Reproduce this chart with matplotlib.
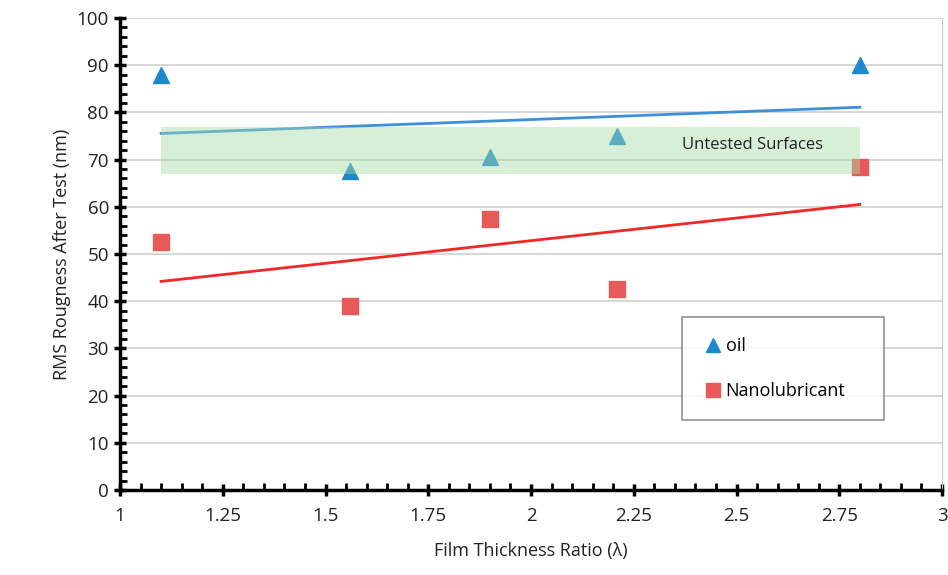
import numpy as np
import matplotlib

matplotlib.use("Agg")
import matplotlib.pyplot as plt
from matplotlib.ticker import MultipleLocator

plt.rcParams["font.family"] = ["Open Sans", "DejaVu Sans"]

# Film thickness ratio (lambda) of each test
lam = [1.1, 1.56, 1.9, 2.21, 2.8]
# RMS roughness after test (nm)
oil = [88, 67.5, 70.5, 75, 90]
nano = [52.5, 39, 57.5, 42.5, 68.5]
# band of untested surface roughness (nm)
untested_lo, untested_hi = 67, 77

fig = plt.figure(figsize=(9.48, 5.75), dpi=100)
ax = fig.add_axes([0.1266, 0.1478, 0.8671, 0.8209])

ax.set_xlim(1, 3)
ax.set_ylim(0, 100)
ax.xaxis.set_major_locator(MultipleLocator(0.25))
ax.xaxis.set_minor_locator(MultipleLocator(0.05))
ax.yaxis.set_major_locator(MultipleLocator(10))
ax.yaxis.set_minor_locator(MultipleLocator(2))
ax.set_xticks(np.arange(1, 3.01, 0.25), ["1", "1.25", "1.5", "1.75", "2", "2.25", "2.5", "2.75", "3"])
ax.grid(axis="y", color="#d0d0d0", linewidth=1.2)
ax.set_axisbelow(True)

ax.spines["top"].set_visible(False)
ax.spines["right"].set_color("#c8c8c8")
ax.spines["left"].set_linewidth(2.5)
ax.spines["bottom"].set_linewidth(2.5)
ax.tick_params(which="major", direction="inout", length=9, width=2.5, labelsize=13.5, colors="black")
ax.tick_params(which="minor", direction="in", length=5, width=2)
ax.tick_params(axis="x", pad=8)
for lbl in ax.get_xticklabels() + ax.get_yticklabels():
    lbl.set_color("#222222")

ax.set_xlabel("Film Thickness Ratio (\u03bb)", fontsize=13, color="#222222", labelpad=12)
ax.set_ylabel("RMS Rougness After Test (nm)", fontsize=13, color="#222222")

# trendlines
lx = np.array([lam[0], lam[-1]])
po = np.polyfit(lam, oil, 1)
pn = np.polyfit(lam, nano, 1)
ax.plot(lx, np.polyval(po, lx), color="#3d8fd9", linewidth=2, zorder=2)
ax.plot(lx, np.polyval(pn, lx), color="#f02828", linewidth=2, zorder=2)

ax.plot(lam, oil, linestyle="none", marker="^", markersize=12, color="#1e88cc", label="oil", zorder=3)
ax.plot(lam, nano, linestyle="none", marker="s", markersize=11, color="#e85a5a", label="Nanolubricant", zorder=3)

ax.fill_between([lam[0], lam[-1]], untested_lo, untested_hi, color="#a8dca8", alpha=0.45,
                linewidth=0, zorder=4)
ax.text(2.54, 73, "Untested Surfaces", fontsize=12, color="#222222", ha="center", va="center", zorder=5)

leg = ax.legend(loc="upper left", bbox_to_anchor=(0.684, 0.1535, 0.246, 0.213), mode="expand",
                fontsize=13, frameon=True, fancybox=False, edgecolor="#777777",
                handletextpad=0.1, borderpad=1.1, labelspacing=1.5, handlelength=1.2,
                borderaxespad=0)
leg.get_frame().set_linewidth(1.2)
for h in leg.legend_handles:
    h.set_markersize(10)

fig.savefig("out.png", dpi=100)
